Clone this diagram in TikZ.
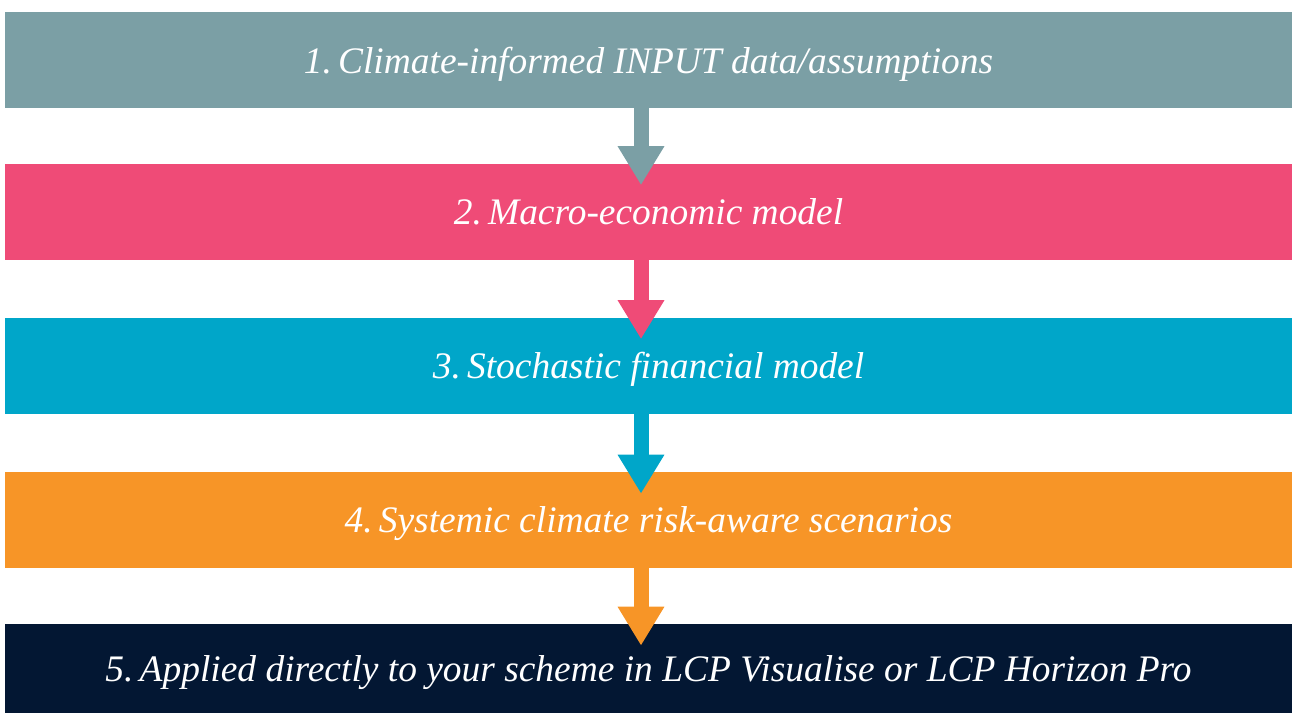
\documentclass[tikz,border=0pt]{standalone}
\usepackage{fontspec}
\setmainfont{Liberation Serif}
\usepackage{tikz}
\usetikzlibrary{arrows.meta, positioning}

\definecolor{inputgray}{HTML}{7B9FA5}
\definecolor{macropink}{HTML}{EF4B77}
\definecolor{stochblue}{HTML}{00A6C9}
\definecolor{scenorange}{HTML}{F79527}
\definecolor{lcpnavy}{HTML}{031733}

\tikzset{
  stagebox/.style={draw=none, minimum width=25.74cm, minimum height=1.92cm,
    inner sep=0pt, text depth=0pt, text=white, font=\fontsize{21.3}{25}\selectfont\itshape},
  flowarrow/.style={line width=0.3cm, shorten >=-0.44cm,
    -{Triangle[width=0.88cm, length=0.78cm]}}
}

\begin{document}
\begin{tikzpicture}
            \useasboundingbox (0, 0) rectangle (25.84, -14.26);
            \node[stagebox, fill=inputgray] (input) at (12.97, -1.2) {1.\,Climate-informed INPUT data/assumptions};
            \node[stagebox, fill=macropink] (macro) at (12.97, -4.23) {2.\,Macro-economic model};
            \node[stagebox, fill=stochblue] (stoch) at (12.97, -7.31) {3.\,Stochastic financial model};
            \node[stagebox, fill=scenorange] (scen) at (12.97, -10.4) {4.\,Systemic climate risk-aware scenarios};
            \node[stagebox, fill=lcpnavy, minimum height=1.78cm] (apply) at (12.97, -13.37) {5.\,Applied directly to your scheme in LCP Visualise or LCP Horizon Pro};
            % arrows sit a little left of centre
            \draw[flowarrow, inputgray] ([xshift=-0.15cm]input.south) -- ([xshift=-0.15cm]macro.north);
            \draw[flowarrow, macropink] ([xshift=-0.15cm]macro.south) -- ([xshift=-0.15cm]stoch.north);
            \draw[flowarrow, stochblue] ([xshift=-0.15cm]stoch.south) -- ([xshift=-0.15cm]scen.north);
            \draw[flowarrow, scenorange] ([xshift=-0.15cm]scen.south) -- ([xshift=-0.15cm]apply.north);
        \end{tikzpicture}
\end{document}
